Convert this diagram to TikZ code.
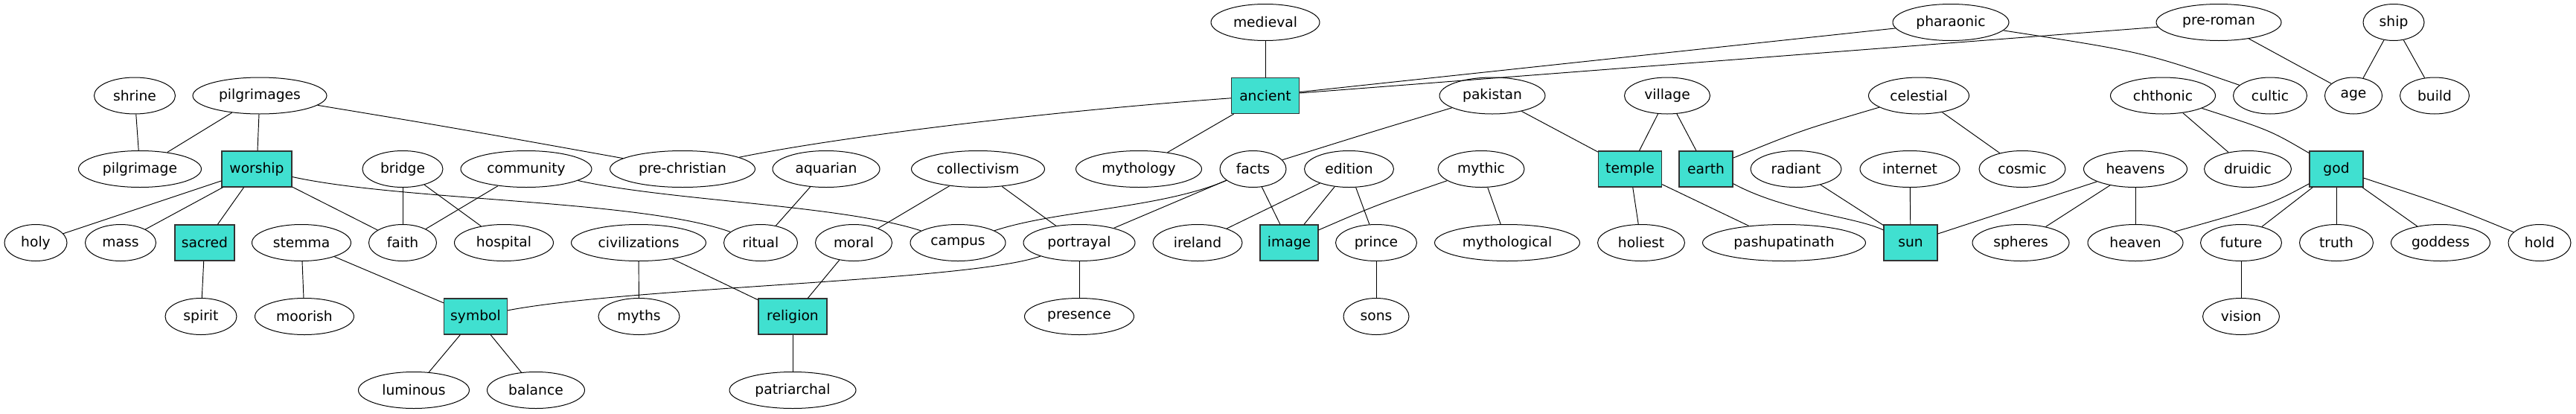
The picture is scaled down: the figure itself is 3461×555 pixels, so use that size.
\documentclass[tikz,border=0pt]{standalone}
\usepackage{fontspec}
\setmainfont{DejaVu Sans}
\usetikzlibrary{shapes.geometric}
\definecolor{turq}{HTML}{40E0D0}
\begin{document}
\begin{tikzpicture}[x=1pt,y=-1pt,
  every node/.style={font=\fontsize{18.7}{20}\selectfont, text=black},
  el/.style={ellipse, draw=black, line width=1pt, inner sep=0pt, minimum height=49pt},
  bx/.style={rectangle, draw=black!80, fill=turq, line width=1.2pt, inner sep=0pt, minimum height=48pt},
  ed/.style={line width=0.95pt}]
\useasboundingbox (0,0) rectangle (3461,555);
% row 1
\node[el, minimum width=146pt] (medieval) at (1700,30) {medieval};
\node[el, minimum width=156pt] (pharaonic) at (2621,30) {pharaonic};
\node[el, minimum width=168pt] (preroman) at (2981,30) {pre-roman};
\node[el, minimum width=82pt] (ship) at (3216,30) {ship};
% row 2
\node[el, minimum width=109pt] (shrine) at (181,128.5) {shrine};
\node[el, minimum width=180pt] (pilgrimages) at (349,128.5) {pilgrimages};
\node[bx, minimum width=91pt] (ancient) at (1700,128.5) {ancient};
\node[el, minimum width=142pt] (pakistan) at (2005,128.5) {pakistan};
\node[el, minimum width=115pt] (village) at (2240,128.5) {village};
\node[el, minimum width=135pt] (celestial) at (2578,128.5) {celestial};
\node[el, minimum width=141pt] (chthonic) at (2906,128.5) {chthonic};
\node[el, minimum width=99pt] (cultic) at (3050,128.5) {cultic};
\node[el, minimum width=77pt] (age) at (3162,128.5) {age};
\node[el, minimum width=93pt] (build) at (3271,128.5) {build};
% row 3
\node[el, minimum width=165pt] (pilgrimage) at (188,227) {pilgrimage};
\node[bx, minimum width=94pt] (worship) at (345,227) {worship};
\node[el, minimum width=108pt] (bridge) at (541,227) {bridge};
\node[el, minimum width=176pt] (community) at (707,227) {community};
\node[el, minimum width=195pt] (prechristian) at (917,227) {pre-christian};
\node[el, minimum width=144pt] (aquarian) at (1110,227) {aquarian};
\node[el, minimum width=179pt] (collectivism) at (1314,227) {collectivism};
\node[el, minimum width=169pt] (mythology) at (1530,227) {mythology};
\node[el, minimum width=89pt] (facts) at (1683.5,227) {facts};
\node[el, minimum width=120pt] (edition) at (1812.5,227) {edition};
\node[el, minimum width=116pt] (mythic) at (1990,227) {mythic};
\node[bx, minimum width=85pt] (temple) at (2190,227) {temple};
\node[bx, minimum width=72pt] (earth) at (2292,227) {earth};
\node[el, minimum width=122pt] (radiant) at (2413,227) {radiant};
\node[el, minimum width=134pt] (internet) at (2566,227) {internet};
\node[el, minimum width=116pt] (cosmic) at (2717,227) {cosmic};
\node[el, minimum width=139pt] (heavens) at (2869,227) {heavens};
\node[el, minimum width=117pt] (druidic) at (3020,227) {druidic};
\node[bx, minimum width=72pt] (god) at (3139,227) {god};
% row 4
\node[el, minimum width=84pt] (holy) at (48,326) {holy};
\node[el, minimum width=95pt] (mass) at (162,326) {mass};
\node[bx, minimum width=80pt] (sacred) at (275,326) {sacred};
\node[el, minimum width=133pt] (stemma) at (405,326) {stemma};
\node[el, minimum width=91pt] (faith) at (541,326) {faith};
\node[el, minimum width=133pt] (hospital) at (677,326) {hospital};
\node[el, minimum width=181pt] (civilizations) at (858,326) {civilizations};
\node[el, minimum width=99pt] (ritual) at (1022,326) {ritual};
\node[el, minimum width=103pt] (moral) at (1147,326) {moral};
\node[el, minimum width=128pt] (campus) at (1287,326) {campus};
\node[el, minimum width=150pt] (portrayal) at (1450,326) {portrayal};
\node[el, minimum width=120pt] (ireland) at (1609,326) {ireland};
\node[bx, minimum width=78pt] (image) at (1732,326) {image};
\node[el, minimum width=109pt] (prince) at (1849,326) {prince};
\node[el, minimum width=195pt] (mythological) at (2025,326) {mythological};
\node[el, minimum width=117pt] (holiest) at (2205,326) {holiest};
\node[el, minimum width=219pt] (pashupatinath) at (2397,326) {pashupatinath};
\node[bx, minimum width=72pt] (sun) at (2567,326) {sun};
\node[el, minimum width=130pt] (spheres) at (2715,326) {spheres};
\node[el, minimum width=128pt] (heaven) at (2869,326) {heaven};
\node[el, minimum width=109pt] (future) at (3011,326) {future};
\node[el, minimum width=99pt] (truth) at (3139,326) {truth};
\node[el, minimum width=133pt] (goddess) at (3279,326) {goddess};
\node[el, minimum width=84pt] (hold) at (3412,326) {hold};
% row 5
\node[el, minimum width=96pt] (spirit) at (270,425) {spirit};
\node[el, minimum width=133pt] (moorish) at (409,425) {moorish};
\node[bx, minimum width=85pt] (symbol) at (639,425) {symbol};
\node[el, minimum width=109pt] (myths) at (858.5,425) {myths};
\node[bx, minimum width=92pt] (religion) at (1065,425) {religion};
\node[el, minimum width=147pt] (presence) at (1450,425) {presence};
\node[el, minimum width=88pt] (sons) at (1849,425) {sons};
\node[el, minimum width=103pt] (vision) at (3011,425) {vision};
% row 6
\node[el, minimum width=149pt] (luminous) at (556,524) {luminous};
\node[el, minimum width=131pt] (balance) at (720,524) {balance};
\node[el, minimum width=170pt] (patriarchal) at (1065,524) {patriarchal};
% edges
\draw[ed] (shrine) -- (pilgrimage);
\draw[ed] (pilgrimages) -- (pilgrimage);
\draw[ed] (pilgrimages) -- (worship);
\draw[ed] (pilgrimages) .. controls (600,170) .. (prechristian);
\draw[ed] (worship) -- (holy);
\draw[ed] (worship) -- (mass);
\draw[ed] (worship) -- (sacred);
\draw[ed] (worship) -- (faith);
\draw[ed] (worship) .. controls (540,270) and (860,268) .. (ritual);
\draw[ed] (bridge) -- (faith);
\draw[ed] (bridge) -- (hospital);
\draw[ed] (community) -- (faith);
\draw[ed] (community) .. controls (900,270) and (1130,275) .. (campus);
\draw[ed] (sacred) -- (spirit);
\draw[ed] (stemma) -- (moorish);
\draw[ed] (stemma) -- (symbol);
\draw[ed] (symbol) -- (luminous);
\draw[ed] (symbol) -- (balance);
\draw[ed] (symbol) .. controls (850,385) and (1300,378) .. (portrayal);
\draw[ed] (civilizations) -- (myths);
\draw[ed] (civilizations) -- (religion);
\draw[ed] (moral) -- (religion);
\draw[ed] (aquarian) -- (ritual);
\draw[ed] (collectivism) -- (moral);
\draw[ed] (collectivism) -- (portrayal);
\draw[ed] (medieval) -- (ancient);
\draw[ed] (ancient) .. controls (1400,150) and (1120,185) .. (prechristian);
\draw[ed] (ancient) -- (mythology);
\draw[ed] (ancient) -- (pharaonic);
\draw[ed] (ancient) -- (preroman);
\draw[ed] (facts) .. controls (1560,280) and (1420,282) .. (campus);
\draw[ed] (facts) -- (portrayal);
\draw[ed] (facts) -- (image);
\draw[ed] (pakistan) .. controls (1850,175) .. (facts);
\draw[ed] (pakistan) -- (temple);
\draw[ed] (portrayal) -- (presence);
\draw[ed] (religion) -- (patriarchal);
\draw[ed] (edition) -- (ireland);
\draw[ed] (edition) -- (image);
\draw[ed] (edition) -- (prince);
\draw[ed] (mythic) .. controls (1850,275) .. (image);
\draw[ed] (mythic) -- (mythological);
\draw[ed] (prince) -- (sons);
\draw[ed] (pharaonic) .. controls (2880,70) .. (cultic);
\draw[ed] (preroman) -- (age);
\draw[ed] (ship) -- (age);
\draw[ed] (ship) -- (build);
\draw[ed] (village) -- (temple);
\draw[ed] (village) -- (earth);
\draw[ed] (celestial) .. controls (2420,175) .. (earth);
\draw[ed] (celestial) -- (cosmic);
\draw[ed] (temple) -- (holiest);
\draw[ed] (temple) -- (pashupatinath);
\draw[ed] (earth) .. controls (2400,285) and (2490,290) .. (sun);
\draw[ed] (radiant) -- (sun);
\draw[ed] (internet) -- (sun);
\draw[ed] (heavens) -- (sun);
\draw[ed] (heavens) -- (spheres);
\draw[ed] (heavens) -- (heaven);
\draw[ed] (chthonic) -- (druidic);
\draw[ed] (chthonic) .. controls (3050,175) .. (god);
\draw[ed] (god) .. controls (3050,275) .. (heaven);
\draw[ed] (god) -- (future);
\draw[ed] (god) -- (truth);
\draw[ed] (god) -- (goddess);
\draw[ed] (god) .. controls (3300,280) .. (hold);
\draw[ed] (future) -- (vision);
\end{tikzpicture}
\end{document}
